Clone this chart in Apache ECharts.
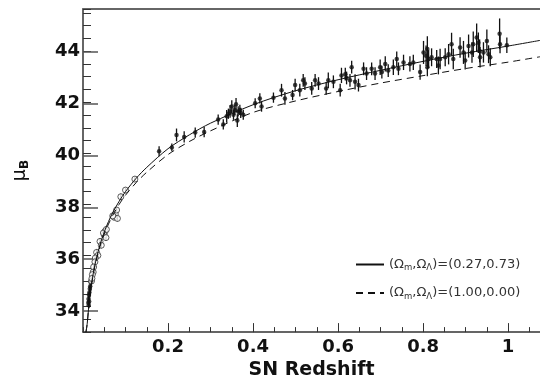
<!DOCTYPE html>
<html>
<head>
<meta charset="utf-8">
<script src="https://cdn.jsdelivr.net/npm/echarts@6/dist/echarts.min.js"></script>
<style>
  html, body { margin: 0; padding: 0; background: #fff; }
  #chart { width: 540px; height: 385px; }
</style>
</head>
<body>
<div id="chart"></div>
<script>
// model curves
var zCurve = [0.007, 0.01, 0.013, 0.016, 0.02, 0.025, 0.03, 0.04, 0.05, 0.06, 0.07, 0.085, 0.1, 0.125, 0.15, 0.2, 0.25, 0.3, 0.4, 0.5, 0.6, 0.7, 0.8, 0.9, 1.0, 1.075];
var muLCDM = [33.0, 33.35, 33.9, 34.35, 34.88, 35.38, 35.78, 36.42, 36.92, 37.33, 37.68, 38.12, 38.5, 39.02, 39.45, 40.18, 40.72, 41.18, 41.9, 42.45, 42.88, 43.25, 43.6, 43.92, 44.2, 44.42];
var muEdS  = [33.0, 33.34, 33.89, 34.33, 34.85, 35.34, 35.73, 36.35, 36.84, 37.23, 37.57, 38.0, 38.36, 38.85, 39.26, 39.95, 40.46, 40.88, 41.6, 42.05, 42.42, 42.75, 43.04, 43.32, 43.57, 43.78];

// supernovae: [z, mu, error]
var lowZ = [
  [0.122, 38.99, 0.1], [0.100, 38.56, 0.1], [0.089, 38.30, 0.12], [0.076, 37.62, 0.12],
  [0.073, 37.50, 0.12], [0.079, 37.78, 0.12], [0.081, 37.45, 0.12], [0.070, 37.55, 0.12],
  [0.052, 36.95, 0.12], [0.050, 36.80, 0.12], [0.048, 36.88, 0.12], [0.055, 37.02, 0.12],
  [0.054, 36.70, 0.12], [0.040, 36.55, 0.12], [0.043, 36.40, 0.12], [0.032, 36.12, 0.12],
  [0.035, 36.00, 0.12], [0.029, 35.90, 0.12], [0.028, 35.75, 0.12], [0.025, 35.55, 0.12],
  [0.024, 35.35, 0.12], [0.022, 35.25, 0.12], [0.020, 35.00, 0.12], [0.021, 35.10, 0.12]
];
var highZ = [
  [0.0125, 34.15, 0.12], [0.013, 34.3, 0.12], [0.014, 34.45, 0.12], [0.015, 34.55, 0.12],
  [0.016, 34.7, 0.12], [0.0135, 34.05, 0.12], [0.017, 34.8, 0.12], [0.018, 34.95, 0.12], [0.0145, 34.2, 0.12],
  [0.179, 40.08, 0.2], [0.209, 40.23, 0.15], [0.220, 40.72, 0.25], [0.238, 40.64, 0.22],
  [0.264, 40.81, 0.2], [0.285, 40.83, 0.2], [0.318, 41.32, 0.2], [0.330, 41.13, 0.2],
  [0.338, 41.45, 0.25], [0.346, 41.64, 0.25], [0.350, 41.83, 0.25], [0.354, 41.51, 0.2],
  [0.360, 41.92, 0.25], [0.363, 41.28, 0.25], [0.365, 41.64, 0.2], [0.371, 41.58, 0.2],
  [0.369, 41.70, 0.2], [0.377, 41.51, 0.2], [0.342, 41.55, 0.2], [0.357, 41.70, 0.2],
  [0.405, 41.96, 0.2], [0.416, 42.15, 0.2], [0.420, 41.83, 0.2], [0.448, 42.18, 0.2],
  [0.467, 42.47, 0.25], [0.475, 42.15, 0.25], [0.493, 42.28, 0.2], [0.499, 42.67, 0.25],
  [0.510, 42.47, 0.25], [0.518, 42.86, 0.25], [0.522, 42.73, 0.25], [0.538, 42.54, 0.25],
  [0.546, 42.86, 0.25], [0.554, 42.73, 0.25], [0.572, 42.54, 0.25], [0.577, 42.86, 0.3],
  [0.589, 42.80, 0.25], [0.605, 42.47, 0.25], [0.608, 43.05, 0.3], [0.617, 43.10, 0.25],
  [0.620, 42.95, 0.25], [0.628, 42.86, 0.25], [0.632, 43.37, 0.25], [0.640, 42.80, 0.3],
  [0.648, 42.67, 0.25], [0.660, 43.31, 0.25], [0.667, 43.12, 0.25], [0.679, 43.31, 0.25],
  [0.687, 43.12, 0.25], [0.699, 43.37, 0.3], [0.703, 43.18, 0.25], [0.711, 43.50, 0.3],
  [0.718, 43.24, 0.25], [0.730, 43.37, 0.3], [0.738, 43.69, 0.3], [0.742, 43.31, 0.25],
  [0.754, 43.56, 0.3], [0.769, 43.50, 0.3], [0.777, 43.56, 0.3], [0.793, 43.18, 0.3],
  [0.801, 43.95, 0.45], [0.807, 43.82, 0.4], [0.810, 44.08, 0.5], [0.813, 43.69, 0.35],
  [0.810, 43.37, 0.35], [0.820, 43.76, 0.35], [0.832, 43.69, 0.35], [0.836, 43.44, 0.35],
  [0.840, 43.69, 0.4], [0.852, 43.76, 0.35], [0.860, 43.88, 0.4], [0.867, 44.27, 0.45],
  [0.871, 43.69, 0.4], [0.887, 44.14, 0.4], [0.895, 43.95, 0.45], [0.899, 43.63, 0.35],
  [0.907, 44.20, 0.45], [0.915, 43.95, 0.4], [0.918, 44.27, 0.5], [0.926, 44.53, 0.55],
  [0.930, 44.33, 0.4], [0.933, 44.01, 0.45], [0.934, 43.76, 0.4], [0.942, 43.95, 0.4],
  [0.950, 44.40, 0.45], [0.954, 43.88, 0.35], [0.958, 43.76, 0.35], [0.980, 44.68, 0.6],
  [0.981, 44.27, 0.35], [0.997, 44.23, 0.3]
];
var xTicks = [0.2, 0.4, 0.6, 0.8, 1];
var yTicks = [34, 36, 38, 40, 42, 44];
var legendNames = ['(Ω{s|m},Ω{s|Λ})=(0.27,0.73)', '(Ω{s|m},Ω{s|Λ})=(1.00,0.00)'];

var font = '"DejaVu Sans", "Liberation Sans", sans-serif';

function pairs(xs, ys) {
  var out = [];
  for (var i = 0; i < xs.length; i++) out.push([xs[i], ys[i]]);
  return out;
}

function errBar(params, api) {
  var top = api.coord([api.value(0), api.value(1) + api.value(2)]);
  var bot = api.coord([api.value(0), api.value(1) - api.value(2)]);
  return {
    type: 'line',
    shape: { x1: top[0], y1: top[1], x2: bot[0], y2: bot[1] },
    style: { stroke: '#111', lineWidth: 1.3 }
  };
}

var myChart = echarts.init(document.getElementById('chart'));
var option = {
  animation: false,
  backgroundColor: '#fff',
  grid: [
    { left: 83, right: 0, top: 9, bottom: 48 },
    { left: 83, right: 0, top: 9, bottom: 74 }
  ],
  legend: {
    orient: 'vertical',
    left: 350,
    top: 253,
    itemWidth: 28,
    itemHeight: 10,
    itemGap: 14,
    data: legendNames,
    itemStyle: { opacity: 0 },
    textStyle: {
      fontFamily: font, fontSize: 13, color: '#333',
      rich: { s: { fontFamily: font, fontSize: 8.5, color: '#333', padding: [7, 0, 0, 0] } }
    }
  },
  xAxis: [
    {
      type: 'value', gridIndex: 0, position: 'bottom', min: 0, max: 1.075, interval: 0.05,
      axisLine: { lineStyle: { color: '#333', width: 1.5 } },
      axisTick: { inside: true, length: 5, lineStyle: { color: '#333' } },
      axisLabel: { show: false },
      splitLine: { show: false }
    },
    {
      type: 'value', gridIndex: 0, position: 'bottom', min: 0, max: 1.075, interval: 0.2,
      name: 'SN Redshift', nameLocation: 'middle', nameGap: 38,
      nameTextStyle: { fontFamily: font, fontWeight: 'bold', fontSize: 19, color: '#111', verticalAlign: 'middle' },
      axisLine: { show: false },
      axisTick: { inside: true, length: 9, lineStyle: { color: '#333' } },
      axisLabel: {
        margin: 6, showMinLabel: false, showMaxLabel: false, verticalAlign: 'top',
        fontFamily: font, fontWeight: 'bold', fontSize: 18, color: '#111',
        formatter: function (v) { return xTicks.indexOf(Math.round(v * 10) / 10) >= 0 ? String(Math.round(v * 10) / 10) : ''; }
      },
      splitLine: { show: false }
    },
    {
      type: 'value', gridIndex: 0, position: 'top', min: 0, max: 1.075,
      axisLine: { lineStyle: { color: '#666', width: 2 } },
      axisTick: { show: false }, axisLabel: { show: false }, splitLine: { show: false }
    },
    { type: 'value', gridIndex: 1, min: 0, max: 1.075, show: false }
  ],
  yAxis: [
    {
      type: 'value', gridIndex: 0, min: 33, max: 45.65, interval: 0.5,
      name: '{a|μ}{b|B}', nameLocation: 'middle', nameGap: 52, nameRotate: 90,
      nameTextStyle: {
        rich: {
          a: { fontFamily: font, fontSize: 19, color: '#111' },
          b: { fontFamily: font, fontSize: 12, fontWeight: 'bold', color: '#111', padding: [9, 0, 0, 0] }
        }
      },
      axisLine: { lineStyle: { color: '#333', width: 1.5 } },
      axisTick: { inside: true, length: 8, lineStyle: { color: '#333' } },
      axisLabel: { show: false },
      splitLine: { show: false }
    },
    {
      type: 'value', gridIndex: 1, min: 34, max: 45.65, interval: 2,
      axisLine: { show: false },
      axisTick: { inside: true, length: 15, lineStyle: { color: '#555', width: 1.5 } },
      axisLabel: {
        margin: 3, showMaxLabel: false,
        fontFamily: font, fontWeight: 'bold', fontSize: 18, color: '#111',
        formatter: function (v) { return yTicks.indexOf(v) >= 0 ? String(v) : ''; }
      },
      splitLine: { show: false }
    }
  ],
  series: [
    {
      name: legendNames[0], type: 'line', xAxisIndex: 0, yAxisIndex: 0,
      data: pairs(zCurve, muLCDM), smooth: 0.3, symbol: 'none',
      lineStyle: { color: '#111', width: 1 }, itemStyle: { color: '#111' }
    },
    {
      name: legendNames[1], type: 'line', xAxisIndex: 0, yAxisIndex: 0,
      data: pairs(zCurve, muEdS), smooth: 0.3, symbol: 'none',
      lineStyle: { color: '#111', width: 1, type: [7, 5] }, itemStyle: { color: '#111' }
    },
    {
      type: 'custom', xAxisIndex: 0, yAxisIndex: 0, renderItem: errBar,
      encode: { x: 0, y: 1 }, data: highZ.concat(lowZ), silent: true
    },
    {
      type: 'scatter', xAxisIndex: 0, yAxisIndex: 0, data: highZ,
      symbol: 'circle', symbolSize: 4.5, itemStyle: { color: '#111' }
    },
    {
      type: 'scatter', xAxisIndex: 0, yAxisIndex: 0, data: lowZ,
      symbol: 'circle', symbolSize: 6,
      itemStyle: { color: '#fff', borderColor: '#333', borderWidth: 1 }
    }
  ]
};
myChart.setOption(option);
</script>
</body>
</html>
